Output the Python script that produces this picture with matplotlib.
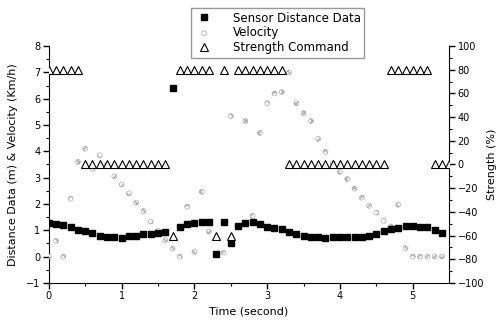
import matplotlib
matplotlib.use("Agg")
import matplotlib.pyplot as plt

# temps d'echantillonnage (s)
time = [0.0, 0.1, 0.2, 0.3, 0.4, 0.5, 0.6, 0.7, 0.8, 0.9,
        1.0, 1.1, 1.2, 1.3, 1.4, 1.5, 1.6, 1.7, 1.8, 1.9,
        2.0, 2.1, 2.2, 2.3, 2.4, 2.5, 2.6, 2.7, 2.8, 2.9,
        3.0, 3.1, 3.2, 3.3, 3.4, 3.5, 3.6, 3.7, 3.8, 3.9,
        4.0, 4.1, 4.2, 4.3, 4.4, 4.5, 4.6, 4.7, 4.8, 4.9,
        5.0, 5.1, 5.2, 5.3, 5.4, 5.5]

# distance capteur (m), t = 0 .. 5.4
distance = [1.28, 1.24, 1.21, 1.13, 1.02, 0.96, 0.90, 0.80, 0.75, 0.75,
            0.72, 0.77, 0.80, 0.84, 0.86, 0.90, 0.95, 6.40, 1.14, 1.25,
            1.29, 1.33, 1.33, 0.08, 1.32, 0.52, 1.17, 1.28, 1.30, 1.24,
            1.14, 1.10, 1.05, 0.95, 0.84, 0.80, 0.76, 0.76, 0.70, 0.73,
            0.75, 0.75, 0.75, 0.75, 0.80, 0.87, 0.97, 1.05, 1.07, 1.16,
            1.16, 1.13, 1.13, 1.02, 0.90]

# vitesse (km/h), t = 0 .. 5.4
velocity = [0.00, 0.60, 0.00, 2.20, 3.60, 4.10, 3.33, 3.85, 3.50, 3.05,
            2.74, 2.40, 2.05, 1.73, 1.33, 0.98, 0.63, 0.30, 0.00, 1.90,
            0.18, 2.46, 0.95, 0.10, 0.15, 5.34, 1.14, 5.15, 1.55, 4.70,
            5.83, 6.20, 6.25, 7.00, 5.83, 5.45, 5.15, 4.47, 3.98, 3.55,
            3.22, 2.95, 2.58, 2.24, 1.93, 1.67, 1.36, 1.14, 1.97, 0.32,
            0.00, 0.00, 0.00, 0.00, 0.00]

# commande de force (%), t = 0 .. 5.5
strength = [80, 80, 80, 80, 80, 0, 0, 0, 0, 0,
            0, 0, 0, 0, 0, 0, 0, -60, 80, 80,
            80, 80, 80, -60, 80, -60, 80, 80, 80, 80,
            80, 80, 80, 0, 0, 0, 0, 0, 0, 0,
            0, 0, 0, 0, 0, 0, 0, 80, 80, 80,
            80, 80, 80, 0, 0, 0]

plt.rcParams['font.family'] = ['DejaVu Sans']

fig = plt.figure(figsize=(4.98, 3.2), dpi=100)
ax = fig.add_axes([0.098, 0.116, 0.804, 0.74])
ax2 = ax.twinx()

n = len(distance)
vel = ax.scatter(time[:n], velocity, marker='o', s=12, facecolors='white',
                 edgecolors='#ababab', linewidths=0.5, hatch='xxxx',
                 label="Velocity", zorder=3)
dist, = ax.plot(time[:n], distance, linestyle='none', marker='s', markersize=4.3,
                color='black', label="Sensor Distance Data", zorder=4)
stre, = ax2.plot(time, strength, linestyle='none', marker='^', markersize=5.5,
                 markerfacecolor='white', markeredgecolor='black',
                 markeredgewidth=0.8, label="Strength Command", zorder=5)

ax.set_xlim(0, 5.5)
ax.set_ylim(-1, 8)
ax2.set_ylim(-100, 100)

ax.set_xticks([0, 1, 2, 3, 4, 5])
ax.set_xticks([0.5, 1.5, 2.5, 3.5, 4.5], minor=True)
ax.set_yticks([-1, 0, 1, 2, 3, 4, 5, 6, 7, 8])
ax.set_yticks([-0.5, 0.5, 1.5, 2.5, 3.5, 4.5, 5.5, 6.5, 7.5], minor=True)
ax2.set_yticks([-100, -80, -60, -40, -20, 0, 20, 40, 60, 80, 100])
ax2.set_yticks([-90, -70, -50, -30, -10, 10, 30, 50, 70, 90], minor=True)

for a in (ax, ax2):
    a.spines['top'].set_visible(False)
    a.tick_params(which='major', direction='out', length=4, width=1,
                  labelsize=7, pad=2)
    a.tick_params(which='minor', direction='out', length=2.5, width=0.8)
ax.spines['right'].set_visible(False)
ax2.spines['left'].set_visible(False)
ax2.spines['bottom'].set_visible(False)

ax.set_xlabel("Time (second)", fontsize=8, labelpad=4)
ax.set_ylabel("Distance Data (m) & Velocity (Km/h)", fontsize=8, labelpad=6)
ax2.set_ylabel("Strength (%)", fontsize=8, rotation=90, labelpad=2)

leg = fig.legend(handles=[dist, vel, stre], loc='upper left',
                 bbox_to_anchor=(0.384, 0.975), fontsize=8.5, frameon=True,
                 fancybox=False, edgecolor='#808080', borderpad=0.3,
                 labelspacing=0.15, handlelength=1.6, handletextpad=1.6,
                 borderaxespad=0)
leg.get_frame().set_linewidth(1.0)

fig.savefig("out.png", dpi=100)
